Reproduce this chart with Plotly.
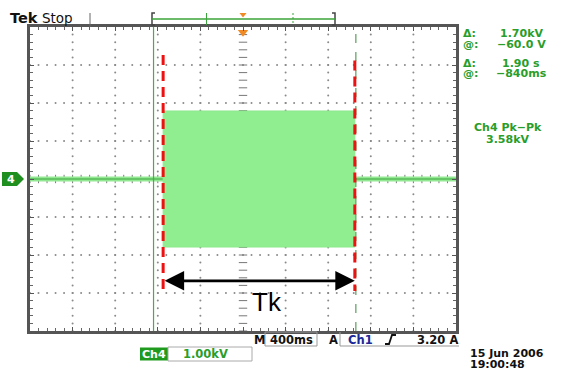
import numpy as np
import plotly.graph_objects as go

# ---- scope settings / data ----
time_per_div = 0.4          # s/div (M 400ms)
volts_per_div = 1.0         # kV/div (Ch4 1.00kV)
x_range = [-2.0, 2.0]       # seconds, 10 divisions
y_range = [-4.0, 4.0]       # kV, 8 divisions

burst_start = -0.75         # s
burst_end = 1.05            # s
burst_pkpk = 3.58           # kV
baseline_level = 0.0        # kV

cursor_t1 = -0.84           # s  (@: -840ms)
cursor_dt = 1.90            # s  (Δ: 1.90 s)
cursor_t2 = cursor_t1 + cursor_dt

red_marks_x = [-0.75, 1.05]
red_marks_top = [3.26, 3.12]
red_marks_bottom = [-2.95, -2.95]

tk_level = -2.68
tk_label = "Tk"

readout_rows = ["Δ:", "@:", "Δ:", "@:"]
readout_vals = ["1.70kV", "−60.0 V", "1.90 s", "−840ms"]
meas_title = "Ch4 Pk−Pk"
meas_value = "3.58kV"
date_lines = ["15 Jun 2006", "19:00:48"]

# ---- pixel helpers for decorations outside the graticule ----
L, R, T, B = 30, 456, 27, 331
W, H = R - L, B - T
def px(x):
    return (x - L) / W
def py(y):
    return (B - y) / H

GRN = "#2a9d2a"
fig = go.Figure()

def label(x, y, text, size=11.5, color="#111", xanchor="center", family="DejaVu Sans", ref="paper"):
    if ref == "paper":
        x, y = px(x), py(y)
    fig.add_annotation(x=x, y=y, xref=ref if ref == "paper" else "x",
                       yref=ref if ref == "paper" else "y", text=text, showarrow=False,
                       xanchor=xanchor, yanchor="middle", borderpad=0,
                       font=dict(family=family, size=size, color=color))

# dotted graticule
xs_major = np.arange(-1.6, 1.61, 0.4)
ys_major = np.arange(-3, 3.1, 1.0)
x_minor = np.arange(-2.0, 2.001, 0.08)
y_minor = np.arange(-4.0, 4.001, 0.2)
gx, gy = [], []
for xv in xs_major:
    if abs(xv) < 1e-6:
        continue
    gx += [xv] * len(y_minor)
    gy += list(y_minor)
for yv in ys_major:
    if abs(yv) < 1e-6:
        continue
    gx += list(x_minor)
    gy += [yv] * len(x_minor)
fig.add_trace(go.Scatter(x=gx, y=gy, mode="markers",
                         marker=dict(size=2, color="#8a8a8a"), hoverinfo="skip"))
# center cross with tick marks
fig.add_trace(go.Scatter(x=list(x_minor), y=[0] * len(x_minor), mode="markers",
                         marker=dict(symbol="line-ns", size=6, line=dict(width=1, color="#777")),
                         hoverinfo="skip"))
fig.add_trace(go.Scatter(x=[0] * len(y_minor), y=list(y_minor), mode="markers",
                         marker=dict(symbol="line-ew", size=6, line=dict(width=1, color="#777")),
                         hoverinfo="skip"))

# baseline signal
for seg in ([x_range[0], burst_start], [burst_end, x_range[1]]):
    fig.add_trace(go.Scatter(x=seg, y=[baseline_level] * 2, mode="lines",
                             line=dict(color="#93e893", width=5), hoverinfo="skip"))
    fig.add_trace(go.Scatter(x=seg, y=[baseline_level] * 2, mode="lines",
                             line=dict(color="#3aa53a", width=1), hoverinfo="skip"))

# burst envelope
a = burst_pkpk / 2
fig.add_trace(go.Scatter(x=[burst_start, burst_end, burst_end, burst_start, burst_start],
                         y=[-a, -a, a, a, -a], mode="lines", fill="toself",
                         fillcolor="#90ee90", line=dict(color="#8ee88e", width=1),
                         hoverinfo="skip"))

# cursors
fig.add_trace(go.Scatter(x=[cursor_t1, cursor_t1], y=y_range, mode="lines",
                         line=dict(color="#44b044", width=1.2), hoverinfo="skip"))
fig.add_trace(go.Scatter(x=[cursor_t2, cursor_t2], y=y_range, mode="lines",
                         line=dict(color="#3a8a3a", width=1, dash="dash"), hoverinfo="skip"))

# red dashed markers
for xv, yt, yb in zip(red_marks_x, red_marks_top, red_marks_bottom):
    fig.add_trace(go.Scatter(x=[xv, xv], y=[yt, yb], mode="lines",
                             line=dict(color="#ee1111", width=3, dash="10px,6px"),
                             hoverinfo="skip"))

# trigger position marker
fig.add_trace(go.Scatter(x=[0], y=[3.86], mode="markers", cliponaxis=False,
                         marker=dict(symbol="triangle-down", size=9, color="#f08a24"),
                         hoverinfo="skip"))

# Tk double arrow
fig.add_annotation(x=red_marks_x[1], y=tk_level, ax=red_marks_x[0], ay=tk_level,
                   xref="x", yref="y", axref="x", ayref="y", text="",
                   showarrow=True, arrowside="end+start", arrowhead=2,
                   arrowsize=1.5, arrowwidth=2.6, arrowcolor="black")
label((266.5 - 243) / W * 4, (179 - 302) / 38, tk_label, size=26, color="black",
      family="Liberation Sans, Arial", ref="data")

shapes = []
# top status bar
label(9, 18, "<b>Tek</b>", size=14.5, color="#111", xanchor="left")
label(41, 17.5, "Stop", size=13.5, color="#111", xanchor="left")
shapes.append(dict(type="line", xref="paper", yref="paper", x0=px(90), x1=px(90),
                   y0=py(13), y1=py(27), line=dict(color="#666", width=1)))
# record bracket
for xb, d in ((152, 3), (335, -3)):
    shapes.append(dict(type="path", xref="paper", yref="paper",
                       path=f"M {px(xb+d)},{py(13)} L {px(xb)},{py(13)} L {px(xb)},{py(25)} L {px(xb+d)},{py(25)}",
                       line=dict(color="#444", width=1.5)))
shapes.append(dict(type="line", xref="paper", yref="paper", x0=px(152), x1=px(335),
                   y0=py(19), y1=py(19), line=dict(color="#3aa53a", width=1.5)))
shapes.append(dict(type="line", xref="paper", yref="paper", x0=px(206.5), x1=px(206.5),
                   y0=py(13), y1=py(25), line=dict(color="#3aa53a", width=1)))
shapes.append(dict(type="line", xref="paper", yref="paper", x0=px(293), x1=px(293),
                   y0=py(13), y1=py(25), line=dict(color="#3aa53a", width=1, dash="2px,2px")))
shapes.append(dict(type="path", xref="paper", yref="paper",
                   path=f"M {px(239.5)},{py(13)} L {px(246.5)},{py(13)} L {px(243)},{py(17.5)} Z",
                   fillcolor="#f08a24", line=dict(width=0)))

# Ch4 ground marker
shapes.append(dict(type="path", xref="paper", yref="paper",
                   path=f"M {px(2)},{py(172)} L {px(17)},{py(172)} L {px(24)},{py(179)} L {px(17)},{py(186)} L {px(2)},{py(186)} Z",
                   fillcolor="#1f8f1f", line=dict(width=0)))
label(10.5, 179, "<b>4</b>", size=11, color="white")

# right readouts
row_y = [33, 44, 63, 74]
for lab, val, yy in zip(readout_rows, readout_vals, row_y):
    label(462, yy, f"<b>{lab}</b>", size=11, color=GRN, xanchor="left")
    label(521, yy, f"<b>{val}</b>", size=11, color=GRN)
label(508, 127, f"<b>{meas_title}</b>", size=11, color=GRN)
label(507, 139, f"<b>{meas_value}</b>", size=11, color=GRN)

# bottom readouts
label(259, 339.5, "<b>M</b>")
shapes.append(dict(type="rect", xref="paper", yref="paper", x0=px(265), x1=px(317),
                   y0=py(332), y1=py(346), line=dict(color="#999", width=1)))
label(291, 339.5, "<b>400ms</b>")
label(333.5, 339.5, "<b>A</b>")
shapes.append(dict(type="path", xref="paper", yref="paper",
                   path=f"M {px(340)},{py(332)} L {px(340)},{py(346)} L {px(459)},{py(346)}",
                   line=dict(color="#999", width=1)))
label(360, 339.5, "<b>Ch1</b>", color="#1a2a9a")
shapes.append(dict(type="path", xref="paper", yref="paper",
                   path=f"M {px(385)},{py(344)} L {px(389)},{py(344)} L {px(392)},{py(335)} L {px(396)},{py(335)}",
                   line=dict(color="#111", width=1.8)))
label(437, 339.5, "<b>3.20 A</b>")

shapes.append(dict(type="rect", xref="paper", yref="paper", x0=px(140), x1=px(168),
                   y0=py(347.5), y1=py(360.5), fillcolor="#1f9a1f", line=dict(width=0)))
label(154, 354, "<b>Ch4</b>", size=11, color="white")
shapes.append(dict(type="rect", xref="paper", yref="paper", x0=px(168), x1=px(252),
                   y0=py(347), y1=py(361), line=dict(color="#aaa", width=1)))
label(205, 354, "<b>1.00kV</b>", color=GRN)

for i, t in enumerate(date_lines):
    label(469, 353 + i * 11, f"<b>{t}</b>", size=11, xanchor="left")

axis_common = dict(showgrid=False, zeroline=False, showticklabels=False,
                   showline=True, linecolor="#555", linewidth=2.5, mirror="allticks",
                   ticks="inside", ticklen=4, tickcolor="#555", tickwidth=1)
fig.update_xaxes(range=x_range, dtick=time_per_div, tick0=0,
                 minor=dict(ticks="inside", dtick=time_per_div / 5, ticklen=3, tickcolor="#666"),
                 **axis_common)
fig.update_yaxes(range=y_range, dtick=volts_per_div, tick0=0,
                 minor=dict(ticks="inside", dtick=volts_per_div / 5, ticklen=3, tickcolor="#666"),
                 **axis_common)
fig.update_layout(width=563, height=372, margin=dict(l=L, r=563 - R, t=T, b=372 - B),
                  plot_bgcolor="white", paper_bgcolor="white", showlegend=False,
                  shapes=shapes)
fig.write_html("out.html", config={"displayModeBar": False},
               post_script="document.body.style.margin='0';document.body.style.padding='0';")
